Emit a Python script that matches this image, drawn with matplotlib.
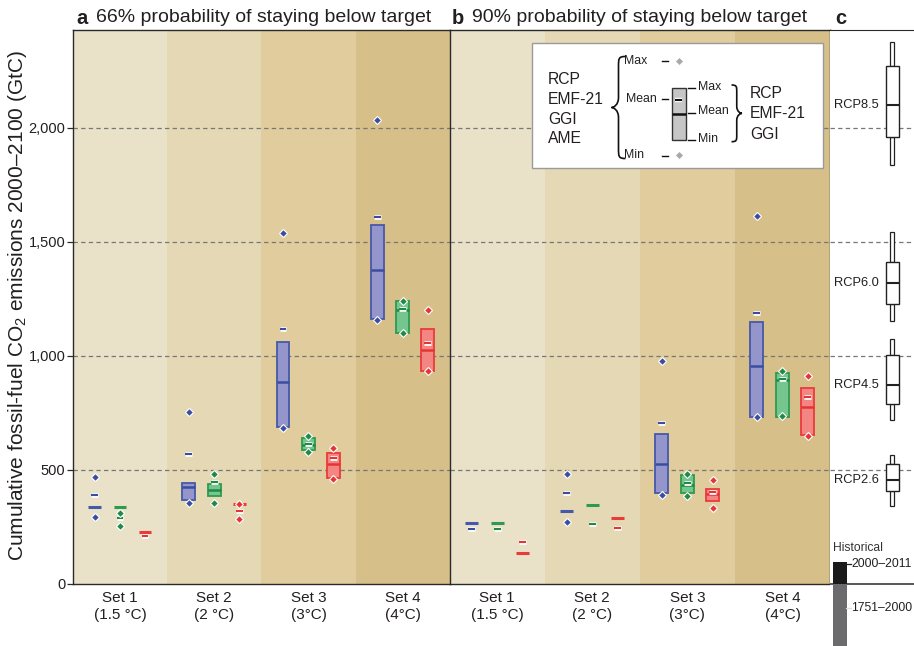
import numpy as np
import matplotlib
matplotlib.use('Agg')
import matplotlib.pyplot as plt
from matplotlib.patches import Rectangle, PathPatch
from matplotlib.path import Path
import matplotlib.patheffects as pe

plt.rcParams['font.family'] = ['Liberation Sans', 'DejaVu Sans']
plt.rcParams['mathtext.fontset'] = 'custom'
plt.rcParams['mathtext.rm'] = 'Liberation Sans'
plt.rcParams['mathtext.it'] = 'Liberation Sans:italic'
plt.rcParams['mathtext.bf'] = 'Liberation Sans:bold'

nan = np.nan

# ---------------- data ----------------
set_labels = ['Set 1\n(1.5 °C)', 'Set 2\n(2 °C)', 'Set 3\n(3°C)', 'Set 4\n(4°C)']
ytick_values = [0, 500, 1000, 1500, 2000]
ytick_labels = ['0', '500', '1,000', '1,500', '2,000']

# rows: blue, green, red groups ; columns: Set 1..4
# panel a: 66% probability
a_box_min = [[338, 367, 686, 1160], [338, 385, 586, 1101], [227, 348, 465, 933]]
a_box_mean = [[338, 423, 885, 1376], [338, 411, 610, 1200], [227, 348, 525, 1025]]
a_box_max = [[338, 440, 1059, 1575], [338, 437, 640, 1239], [227, 348, 572, 1116]]
a_all_mean = [[390, 570, 1118, 1608], [290, 447, 614, 1204], [209, 317, 550, 1056]]
a_all_max = [[468, 752, 1538, 2035], [310, 480, 649, 1239], [nan, 348, 597, 1199]]
a_all_min = [[294, 355, 683, 1158], [252, 355, 576, 1101], [nan, 285, 459, 933]]

# panel b: 90% probability
b_box_min = [[268, 317, 396, 730], [268, 347, 396, 732], [133, 287, 362, 654]]
b_box_mean = [[268, 317, 525, 953], [268, 347, 432, 892], [133, 287, 392, 775]]
b_box_max = [[268, 317, 657, 1148], [268, 347, 475, 926], [133, 287, 414, 858]]
b_all_mean = [[241, 398, 705, 1187], [240, 263, 440, 899], [183, 243, 402, 819]]
b_all_max = [[nan, 481, 977, 1612], [nan, nan, 480, 933], [nan, nan, 453, 911]]
b_all_min = [[nan, 272, 389, 731], [nan, nan, 385, 734], [nan, nan, 331, 649]]

# panel c: RCP ranges
rcp_names = ['RCP8.5', 'RCP6.0', 'RCP4.5', 'RCP2.6']
rcp_whislo = [1836, 1151, 717, 340]
rcp_q1 = [1958, 1226, 790, 406]
rcp_med = [2101, 1320, 870, 455]
rcp_q3 = [2272, 1410, 1003, 527]
rcp_whishi = [2375, 1542, 1073, 565]
hist_labels = ['2000–2011', '1751–2000']
hist_values = [95, 280]

# ---------------- style ----------------
bg_colors = ['#E9E1C8', '#E5D8B5', '#E0CC9C', '#D6BF88']
fill_colors = ['#9496CB', '#74C58E', '#F38583']
edge_colors = ['#4658A9', '#2E9A50', '#EA3B3B']
dark_colors = ['#3A4DA0', '#1F8A45', '#E63434']
offsets = [-0.27, 0.0, 0.265]
hw = 0.068
dw = 0.036
TXT = '#231F20'

W, H = 914, 646
Y0PX = 583.7
PPG = 114.0 / 500.0
YMAX = (Y0PX - 30) / PPG
YMINC = -(H - Y0PX) / PPG

fig = plt.figure(figsize=(W / 100, H / 100), dpi=100)


def fx(x):
    return x / W


def fy(y):
    return 1 - y / H


ax_a = fig.add_axes([fx(73), fy(Y0PX), (449.7 - 73) / W, (Y0PX - 30) / H])
ax_b = fig.add_axes([fx(449.7), fy(Y0PX), (830 - 449.7) / W, (Y0PX - 30) / H])
ax_c = fig.add_axes([fx(830), 0, (W - 830) / W, (H - 30) / H])
ax_o = fig.add_axes([0, 0, 1, 1], zorder=10)
ax_o.set_xlim(0, W)
ax_o.set_ylim(H, 0)
ax_o.axis('off')

grid_kw = dict(color='#777777', lw=0.9, ls=(0, (3.5, 2.6)), zorder=1)


def draw_panel(ax, bmin, bmean, bmax, amean, amax, amin):
    for i, c in enumerate(bg_colors):
        ax.axvspan(i, i + 1, color=c, lw=0, zorder=0)
    for v in ytick_values[1:]:
        ax.axhline(v, **grid_kw)
    for g in range(3):
        for s in range(4):
            x = s + 0.5 + offsets[g]
            lo, mu, hi = bmin[g][s], bmean[g][s], bmax[g][s]
            if hi - lo < 1:
                ax.plot([x - hw, x + hw], [mu, mu], color=edge_colors[g], lw=2.2,
                        solid_capstyle='butt', zorder=3)
            else:
                ax.add_patch(Rectangle((x - hw, lo), 2 * hw, hi - lo, facecolor=fill_colors[g],
                                       edgecolor=edge_colors[g], lw=1.3, zorder=3))
                ax.plot([x - hw, x + hw], [mu, mu], color=dark_colors[g], lw=1.8,
                        solid_capstyle='butt', zorder=3.5)
            m = amean[g][s]
            if not np.isnan(m):
                ax.plot([x - dw, x + dw], [m, m], color=dark_colors[g], lw=1.5,
                        solid_capstyle='butt', zorder=4,
                        path_effects=[pe.Stroke(linewidth=3.4, foreground='white'), pe.Normal()])
            for v in (amax[g][s], amin[g][s]):
                if not np.isnan(v):
                    ax.plot([x], [v], marker='D', ms=4.2, mfc=dark_colors[g], mec='white',
                            mew=0.8, zorder=5, ls='none')
    ax.set_xlim(0, 4)
    ax.set_ylim(0, YMAX)
    ax.set_xticks([0.5, 1.5, 2.5, 3.5])
    ax.set_xticklabels(set_labels, fontsize=11, linespacing=1.3, color=TXT)
    ax.tick_params(axis='x', length=0, pad=5)
    for sp in ['left', 'right', 'top', 'bottom']:
        ax.spines[sp].set_color('#2A2A2A')
        ax.spines[sp].set_linewidth(1.0)


draw_panel(ax_a, a_box_min, a_box_mean, a_box_max, a_all_mean, a_all_max, a_all_min)
draw_panel(ax_b, b_box_min, b_box_mean, b_box_max, b_all_mean, b_all_max, b_all_min)

ax_a.set_yticks(ytick_values)
ax_a.set_yticklabels(ytick_labels, fontsize=10.5, color=TXT)
ax_a.tick_params(axis='y', direction='out', length=4, width=0.9, pad=1.5, color='#2A2A2A')
ax_a.spines['right'].set_visible(False)
ax_b.set_yticks([])

# ---------------- panel c ----------------
ax_c.set_xlim(0, W - 830)
ax_c.set_ylim(YMINC, YMAX)
ax_c.set_xticks([])
ax_c.set_yticks([])
for sp in ['left', 'right', 'bottom']:
    ax_c.spines[sp].set_visible(False)
ax_c.spines['top'].set_color('#2A2A2A')
for v in ytick_values[1:]:
    ax_c.axhline(v, **grid_kw)
ax_c.axhline(0, color='#2A2A2A', lw=1.1, zorder=2)
bx0, bw = 55.5, 13.0
wx0, ww = 60.2, 3.6
for i, name in enumerate(rcp_names):
    ax_c.add_patch(Rectangle((wx0, rcp_q3[i]), ww, rcp_whishi[i] - rcp_q3[i], facecolor='white',
                             edgecolor='#222222', lw=0.9, zorder=3))
    ax_c.add_patch(Rectangle((wx0, rcp_whislo[i]), ww, rcp_q1[i] - rcp_whislo[i], facecolor='white',
                             edgecolor='#222222', lw=0.9, zorder=3))
    ax_c.add_patch(Rectangle((bx0, rcp_q1[i]), bw, rcp_q3[i] - rcp_q1[i], facecolor='white',
                             edgecolor='#222222', lw=1.0, zorder=4))
    ax_c.plot([bx0, bx0 + bw], [rcp_med[i]] * 2, color='#222222', lw=1.5, zorder=5,
              solid_capstyle='butt')
    ax_c.text(bx0 - 6.5, rcp_med[i], name, ha='right', va='center', fontsize=9.3, color=TXT, zorder=6)

ax_c.bar(10, hist_values[0], width=14, bottom=0, color='#1A1A1A', zorder=3)
ax_c.bar(10, -hist_values[1], width=14, bottom=0, color='#6B6B6D', zorder=3)
hist_label_y = [hist_values[0] - 8, -108]
for lab, yy in zip(hist_labels, hist_label_y):
    ax_c.plot([16, 20.5], [yy, yy], color='#222222' if yy > 0 else '#DDDDDD', lw=0.9, zorder=4)
    ax_c.text(21, yy, lab, ha='left', va='center', fontsize=8.7, color=TXT, zorder=6)
ax_c.text(3, (Y0PX - 548) / PPG, 'Historical', ha='left', va='center', fontsize=8.7, color='#333333')

# ---------------- titles & axis label ----------------
ax_o.text(76, 18, 'a', fontsize=14.5, fontweight='bold', ha='left', va='center', color=TXT)
ax_o.text(96, 18, '66% probability of staying below target', fontsize=14, ha='left', va='center', color=TXT)
ax_o.text(452, 18, 'b', fontsize=14.5, fontweight='bold', ha='left', va='center', color=TXT)
ax_o.text(472, 18, '90% probability of staying below target', fontsize=14, ha='left', va='center', color=TXT)
ax_o.text(835, 18, 'c', fontsize=14.5, fontweight='bold', ha='left', va='center', color=TXT)
ax_o.text(18, 306, 'Cumulative fossil-fuel CO$_2$ emissions 2000–2100 (GtC)', rotation=90,
          fontsize=15, ha='center', va='center', color=TXT)

# ---------------- legend (key) ----------------
ax_o.add_patch(Rectangle((531.7, 43.3), 823 - 531.7, 168 - 43.3, facecolor='white',
                         edgecolor='#9A9A9A', lw=1.0, zorder=1))


def brace(x_tip, x_back, y0, y1, r):
    ym = (y0 + y1) / 2
    xm = (x_tip + x_back) / 2
    s = 1 if y1 > y0 else -1
    verts = [(x_back, y0),
             (xm, y0), (xm, y0 + s * r * 0.2), (xm, y0 + s * r),
             (xm, ym - s * r),
             (xm, ym - s * r * 0.25), (x_tip + (xm - x_tip) * 0.3, ym), (x_tip, ym),
             (x_tip + (xm - x_tip) * 0.3, ym), (xm, ym + s * r * 0.25), (xm, ym + s * r),
             (xm, y1 - s * r),
             (xm, y1 - s * r * 0.2), (xm, y1), (x_back, y1)]
    codes = [Path.MOVETO] + [Path.CURVE4] * 3 + [Path.LINETO] + [Path.CURVE4] * 6 + \
            [Path.LINETO] + [Path.CURVE4] * 3
    ax_o.add_patch(PathPatch(Path(verts, codes), facecolor='none', edgecolor='#111111',
                             lw=1.2, zorder=3))


for t, yy in zip(['RCP', 'EMF-21', 'GGI', 'AME'], [79, 99, 119, 138.5]):
    ax_o.text(548, yy, t, fontsize=11.3, ha='left', va='center', color=TXT, zorder=3)
brace(611.5, 625.5, 56.5, 158.5, 10)
for t, yy in zip(['Max', 'Mean', 'Min'], [60.7, 98.5, 155]):
    ax_o.text(624 if t != 'Mean' else 626, yy, t, fontsize=8.8, ha='left', va='center',
              color=TXT, zorder=3)
    ax_o.plot([662, 668], [yy + 0.5, yy + 0.5], color='#111111', lw=1.0, zorder=3)
for yy in (60.7, 155):
    ax_o.plot([678.5], [yy], marker='D', ms=4, mfc='#A9A9A9', mec='white', mew=0.5, zorder=3)
ax_o.add_patch(Rectangle((671.7, 87.7), 14.3, 52.3, facecolor='#C6C6C6', edgecolor='#333333',
                         lw=1.0, zorder=3))
ax_o.plot([671.7, 686], [114, 114], color='#111111', lw=1.8, zorder=4, solid_capstyle='butt')
ax_o.plot([675, 682], [99.5, 99.5], color='#111111', lw=1.5, zorder=4, solid_capstyle='butt',
          path_effects=[pe.Stroke(linewidth=3.2, foreground='white'), pe.Normal()])
for t, yy in zip(['Max', 'Mean', 'Min'], [88, 112.5, 140]):
    ax_o.plot([688, 695], [yy, yy], color='#111111', lw=1.0, zorder=3)
    ax_o.text(698, yy - 1, t, fontsize=8.8, ha='left', va='center', color=TXT, zorder=3)
brace(742, 731.5, 85, 141.7, 7)
for t, yy in zip(['RCP', 'EMF-21', 'GGI'], [93.5, 114, 134.5]):
    ax_o.text(750, yy, t, fontsize=11.3, ha='left', va='center', color=TXT, zorder=3)

fig.savefig('out.png', dpi=100)
